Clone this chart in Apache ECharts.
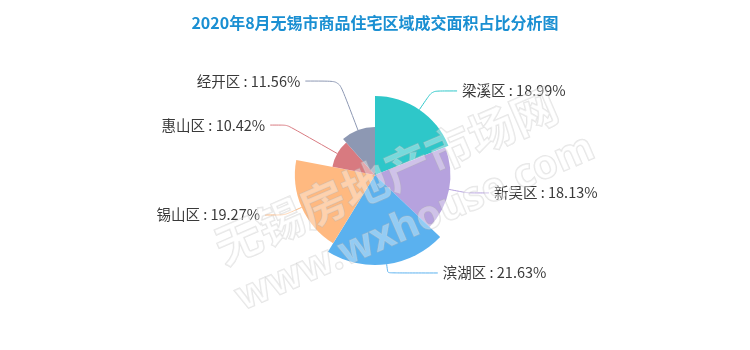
<!DOCTYPE html>
<html>
<head>
<meta charset="utf-8">
<script src="https://cdn.jsdelivr.net/npm/echarts@6/dist/echarts.min.js"></script>
<style>html,body{margin:0;padding:0;background:#fff}#c{width:750px;height:350px}</style>
</head>
<body>
<div id="c"></div>
<script>
const titleText = '2020年8月无锡市商品住宅区域成交面积占比分析图';
const categories = ['梁溪区', '新吴区', '滨湖区', '锡山区', '惠山区', '经开区'];
const shares = [18.99, 18.13, 21.63, 19.27, 10.42, 11.56];
const colors = ['#2ec7c9', '#b6a2de', '#5ab1ef', '#ffb980', '#d87a80', '#8d98b3'];
const watermark1 = '无锡房地产市场网';
const watermark2 = 'www.wxhouse.com';
// label-line segment lengths per slice (styling only)
const lineLen1 = [11.6, 4, 8.8, 9, 11, 10.5];
const lineLen2 = [25, 21.7, 50, 19.4, 17, 34];

const chart = echarts.init(document.getElementById('c'));
const font = '"Noto Sans CJK SC", "Noto Sans", sans-serif';
chart.setOption({
  animation: false,
  color: colors,
  title: {
    text: titleText,
    left: 'center',
    top: 10,
    textStyle: { color: '#1a8fd2', fontSize: 16, fontWeight: 'bold', fontFamily: font }
  },
  series: [{
    type: 'pie',
    roseType: 'radius',
    center: [375, 175],
    radius: [0, 90],
    startAngle: 90,
    clockwise: true,
    avoidLabelOverlap: false,
    label: {
      formatter: '{b} : {c}%',
      fontSize: 14.5,
      color: '#3a3a3a',
      fontFamily: font
    },
    labelLine: { length: 15, length2: 15, smooth: 0.15 },
    itemStyle: { borderWidth: 0 },
    data: categories.map((n, i) => ({
      name: n,
      value: shares[i],
      labelLine: { length: lineLen1[i], length2: lineLen2[i] }
    }))
  }],
  graphic: [
    {
      type: 'text', z: 100, x: 208, y: 228, rotation: 0.41,
      style: { text: watermark1, font: 'bold 46px "Noto Sans CJK SC"', fill: 'rgba(255,255,255,0.35)', stroke: 'rgba(180,180,180,0.35)', lineWidth: 1.5 }
    },
    {
      type: 'text', z: 100, x: 230, y: 282, rotation: 0.41,
      style: { text: watermark2, font: 'bold 40px "Noto Sans"', fill: 'rgba(255,255,255,0.35)', stroke: 'rgba(180,180,180,0.35)', lineWidth: 1.5 }
    }
  ]
});
</script>
</body>
</html>
